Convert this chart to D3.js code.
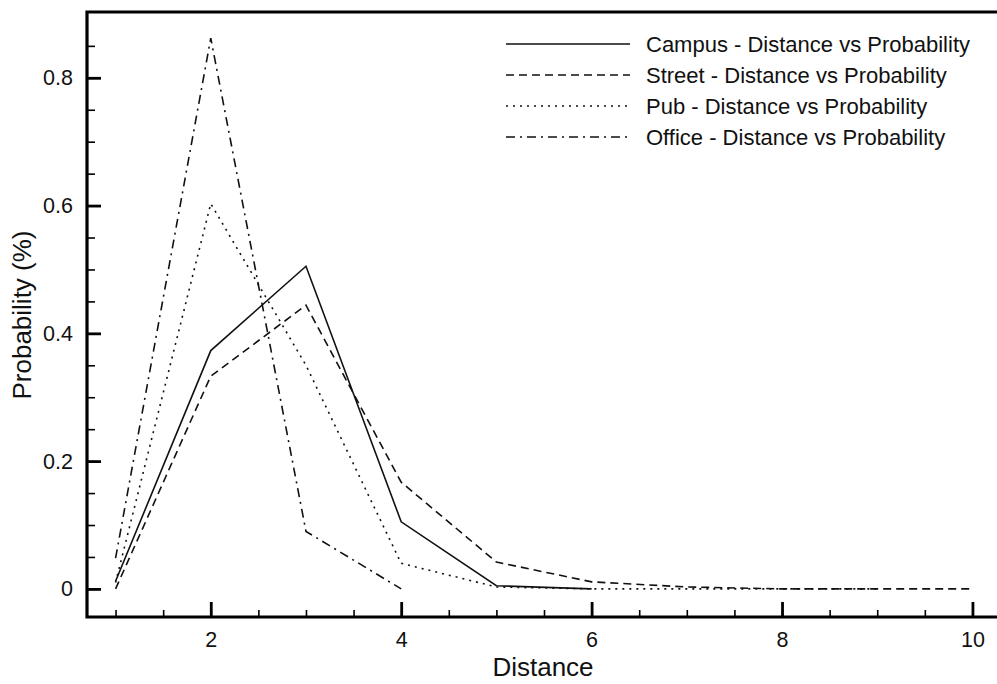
<!DOCTYPE html>
<html>
<head>
<meta charset="utf-8">
<script src="https://cdn.jsdelivr.net/npm/d3@7"></script>
<style>
  body { margin: 0; background: #fff; }
  svg { display: block; font-family: "Liberation Sans", Arial, sans-serif; }
</style>
</head>
<body>
<div id="chart"></div>
<script>
// distance values (x)
const distance = [1, 2, 3, 4, 5, 6, 7, 8, 9, 10];

// probability per scene
const campus = [0.012, 0.373, 0.505, 0.105, 0.005, 0.0];
const street = [0.0, 0.333, 0.444, 0.167, 0.042, 0.011, 0.003, 0.0, 0.0, 0.0];
const pub    = [0.01, 0.603, 0.35, 0.04, 0.003, 0.0, 0.0, 0.0, 0.0];
const office = [0.048, 0.862, 0.09, 0.0];

const seriesNames = ["Campus - Distance vs Probability", "Street - Distance vs Probability",
                     "Pub - Distance vs Probability", "Office - Distance vs Probability"];
const dashes = [null, "8,5", "2,5", "9,5,2,5"];

const xTicks = [2, 4, 6, 8, 10];
const yTicks = [0, 0.2, 0.4, 0.6, 0.8];

const width = 997, height = 684;

const x = d3.scaleLinear().domain([0.7, 10.3]).range([87, 1001]);
const y = d3.scaleLinear().domain([-0.044, 0.903]).range([617, 12]);

const svg = d3.select("#chart")
  .append("svg")
    .attr("width", width)
    .attr("height", height);

// minor ticks
svg.append("g")
    .attr("transform", `translate(0,${y.range()[0]})`)
    .call(d3.axisBottom(x).tickValues(d3.range(1, 10.01, 0.5)).tickSize(-7).tickFormat(""))
    .call(g => g.select(".domain").remove())
    .call(g => g.selectAll("line").attr("stroke-width", 1.6));

svg.append("g")
    .attr("transform", `translate(${x.range()[0]},0)`)
    .call(d3.axisLeft(y).tickValues(d3.range(0, 0.851, 0.05)).tickSize(-8).tickFormat(""))
    .call(g => g.select(".domain").remove())
    .call(g => g.selectAll("line").attr("stroke-width", 1.6));

// major ticks with labels
svg.append("g")
    .attr("transform", `translate(0,${y.range()[0]})`)
    .call(d3.axisBottom(x).tickValues(xTicks).tickSize(-15).tickPadding(15).tickFormat(d3.format("d")))
    .call(g => g.select(".domain").remove())
    .call(g => g.selectAll("line").attr("stroke-width", 2.8))
    .call(g => g.selectAll("text").style("font-size", "21.5px").attr("fill", "#111")
      .style("font-family", "Liberation Sans, Arial, sans-serif"));

svg.append("g")
    .attr("transform", `translate(${x.range()[0]},0)`)
    .call(d3.axisLeft(y).tickValues(yTicks).tickSize(-14).tickPadding(14).tickFormat(d => d === 0 ? "0" : d3.format(".1f")(d)))
    .call(g => g.select(".domain").remove())
    .call(g => g.selectAll("line").attr("stroke-width", 2.8))
    .call(g => g.selectAll("text").style("font-size", "21.5px").attr("fill", "#111")
      .style("font-family", "Liberation Sans, Arial, sans-serif"));

// frame
svg.append("path")
    .attr("d", `M${x.range()[1]},${y.range()[1]}H${x.range()[0]}V${y.range()[0]}H${x.range()[1]}`)
    .attr("fill", "none")
    .attr("stroke", "#000")
    .attr("stroke-width", 3.2);

// lines
const line = d3.line()
    .x((d, i) => x(distance[i]))
    .y(d => y(d));

const allSeries = [campus, street, pub, office];

svg.selectAll(".series")
  .data(allSeries)
  .join("path")
    .attr("class", "series")
    .attr("d", line)
    .attr("fill", "none")
    .attr("stroke", "#111")
    .attr("stroke-width", 1.6)
    .attr("stroke-dasharray", (d, i) => dashes[i]);

// legend
const legend = svg.append("g")
  .selectAll("g")
  .data(seriesNames)
  .join("g")
    .attr("transform", (d, i) => `translate(506,${44 + i * 31})`);

legend.append("line")
    .attr("x1", 0).attr("x2", 124)
    .attr("stroke", "#111")
    .attr("stroke-width", 1.6)
    .attr("stroke-dasharray", (d, i) => dashes[i]);

legend.append("text")
    .attr("x", 140)
    .attr("dy", "0.35em")
    .attr("font-size", 22)
    .attr("fill", "#111")
    .text(d => d);

// axis titles
svg.append("text")
    .attr("x", 543)
    .attr("y", 676)
    .attr("text-anchor", "middle")
    .attr("font-size", 26)
    .attr("fill", "#111")
    .text("Distance");

svg.append("text")
    .attr("transform", "translate(31,315) rotate(-90)")
    .attr("text-anchor", "middle")
    .attr("font-size", 26)
    .attr("fill", "#111")
    .text("Probability (%)");
</script>
</body>
</html>
